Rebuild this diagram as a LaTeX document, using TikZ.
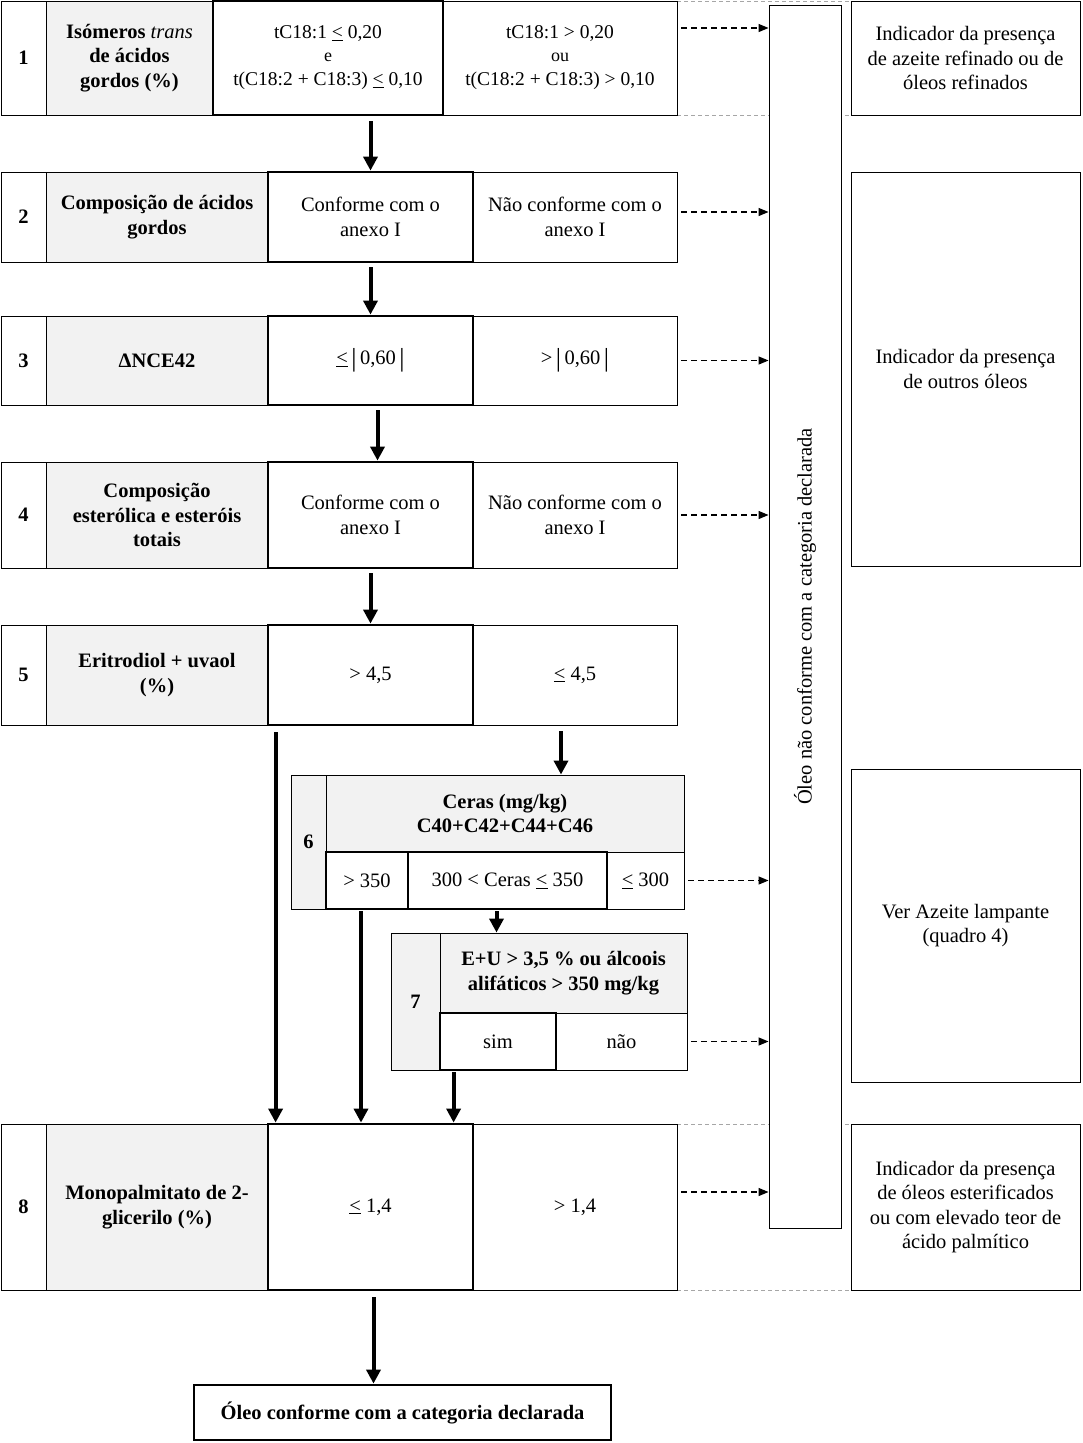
\documentclass[tikz,border=0pt]{standalone}
\usepackage{fontspec}
\setmainfont{Liberation Serif}
\usetikzlibrary{arrows.meta,calc}
\definecolor{lg}{HTML}{F2F2F2}
\newcommand\bx[7]{\node[#1, minimum width={(#5-#3)*1pt}, minimum height={(#6-#4)*1pt}] (#2) at ({(#3+#5)/2},{(#4+#6)/2}) {#7};}
\newcommand\tallbar{{\fontsize{26}{26}\selectfont\raisebox{-2pt}{|}}}
\newcommand\fs{\fontsize{20.5}{24.5}\selectfont}
\newcommand\fsa{\fontsize{19.5}{22}\selectfont}
\begin{document}
\begin{tikzpicture}[x=1pt,y=-1pt,
  cell/.style={draw, line width=0.9pt, align=center, inner sep=1pt, fill=white, font=\fs},
  lab/.style={cell, fill=lg, font=\bfseries\fs},
  num/.style={cell, font=\bfseries\fs},
  gnum/.style={num, fill=lg},
  thk/.style={cell, line width=2.8pt},
  arr/.style={line width=4pt, -{Triangle[length=14pt,width=14pt]}},
  darr/.style={line width=1.2pt, dash pattern=on 6pt off 4pt, -{Triangle[length=10pt,width=8pt]}},
  gdash/.style={draw=gray!70, line width=1pt, dash pattern=on 4pt off 3pt}]
\useasboundingbox (0,0) rectangle (1083,1443);
\fill[white] (0,0) rectangle (1083,1443);

% gray dashed guide lines
\coordinate (g1a) at (677,1); \coordinate (g1b) at (851,1);
\coordinate (g2a) at (677,115); \coordinate (g2b) at (851,115);
\coordinate (g3a) at (677,1124); \coordinate (g3b) at (851,1124);
\coordinate (g4a) at (677,1290); \coordinate (g4b) at (851,1290);
\draw[gdash] (g1a) -- (g1b); \draw[gdash] (g2a) -- (g2b);
\draw[gdash] (g3a) -- (g3b); \draw[gdash] (g4a) -- (g4b);

% row 1
\bx{num}{n1}{1}{1}{46}{115}{1}
\bx{lab}{l1}{46}{1}{213}{115}{Isómeros \textit{\mdseries trans}\\de ácidos\\gordos (\%)}
\bx{cell}{r1}{443}{1}{677}{115}{\fsa tC18:1 > 0,20\\[-2pt]{\fontsize{18}{18}\selectfont ou}\\\fsa t(C18:2 + C18:3) > 0,10}
\bx{thk}{m1}{213}{1}{443}{115}{\fsa tC18:1 \underline{<} 0,20\\[-2pt]{\fontsize{18}{18}\selectfont e}\\\fsa t(C18:2 + C18:3) \underline{<} 0,10}

% row 2
\bx{num}{n2}{1}{172}{46}{262}{2}
\bx{lab}{l2}{46}{172}{268}{262}{Composição de ácidos\\gordos}
\bx{cell}{r2}{473}{172}{677}{262}{Não conforme com o\\anexo I}
\bx{thk}{m2}{268}{172}{473}{262}{Conforme com o\\anexo I}

% row 3
\bx{num}{n3}{1}{316}{46}{405}{3}
\bx{lab}{l3}{46}{316}{268}{405}{ΔNCE42}
\bx{cell}{r3}{473}{316}{677}{405}{>\,\tallbar\,0,60\,\tallbar}
\bx{thk}{m3}{268}{316}{473}{405}{\underline{<}\,\tallbar\,0,60\,\tallbar}

% row 4
\bx{num}{n4}{1}{462}{46}{568}{4}
\bx{lab}{l4}{46}{462}{268}{568}{Composição\\esterólica e esteróis\\totais}
\bx{cell}{r4}{473}{462}{677}{568}{Não conforme com o\\anexo I}
\bx{thk}{m4}{268}{462}{473}{568}{Conforme com o\\anexo I}

% row 5
\bx{num}{n5}{1}{625}{46}{725}{5}
\bx{lab}{l5}{46}{625}{268}{725}{Eritrodiol + uvaol\\(\%)}
\bx{cell}{r5}{473}{625}{677}{725}{\underline{<} 4,5}
\bx{thk}{m5}{268}{625}{473}{725}{> 4,5}

% row 6
\bx{gnum}{n6}{291}{775}{326}{909}{6}
\bx{lab}{h6}{326}{775}{684}{852}{Ceras (mg/kg)\\C40+C42+C44+C46}
\bx{cell}{c6}{607}{852}{684}{909}{\underline{<} 300}
\bx{thk}{a6}{326}{852}{408}{909}{> 350}
\bx{thk}{b6}{408}{852}{607}{909}{300 < Ceras \underline{<} 350}

% row 7
\bx{gnum}{n7}{391}{933}{440}{1070}{7}
\bx{lab}{h7}{440}{933}{687}{1013}{E+U > 3,5 \% ou álcoois\\alifáticos > 350 mg/kg}
\bx{cell}{no7}{556}{1013}{687}{1070}{não}
\bx{thk}{s7}{440}{1013}{556}{1070}{sim}

% row 8
\bx{num}{n8}{1}{1124}{46}{1290}{8}
\bx{lab}{l8}{46}{1124}{268}{1290}{Monopalmitato de 2-\\glicerilo (\%)}
\bx{cell}{r8}{473}{1124}{677}{1290}{> 1,4}
\bx{thk}{m8}{268}{1124}{473}{1290}{\underline{<} 1,4}

% final
\bx{thk}{fin}{194}{1385}{611}{1440}{\bfseries Óleo conforme com a categoria declarada}

% right column
\bx{cell}{R1}{851}{1}{1080}{115}{Indicador da presença\\de azeite refinado ou de\\óleos refinados}
\bx{cell}{R2}{851}{172}{1080}{566}{Indicador da presença\\de outros óleos}
\bx{cell}{R3}{851}{769}{1080}{1082}{Ver Azeite lampante\\(quadro 4)}
\bx{cell}{R4}{851}{1124}{1080}{1290}{Indicador da presença\\de óleos esterificados\\ou com elevado teor de\\ácido palmítico}

% vertical box
\bx{cell}{V}{769}{5}{841}{1228}{}
\node[rotate=90, font=\fs] (vt) at (V.center) {Óleo não conforme com a categoria declarada};

% solid arrows
\draw[arr, shorten <=5pt] (m1.south -| m2.north) -- (m2.north);
\draw[arr, shorten <=4pt] (m2.south) -- (m3.north);
\draw[arr, shorten <=4pt] ([xshift=7pt]m3.south) -- ([xshift=7pt]m4.north);
\draw[arr, shorten <=4pt] (m4.south) -- (m5.north);
\draw[arr, shorten <=6pt] ([xshift=-14pt]r5.south) -- ([xshift=-14pt]r5.south |- h6.north);
\draw[arr, shorten <=6pt] ([xshift=9pt]m5.south west) -- ([xshift=9pt]m5.south west |- m8.north);
\draw[arr, shorten <=1pt] ([xshift=-6pt]a6.south) -- ([xshift=-6pt]a6.south |- m8.north);
\draw[arr, shorten <=1pt] ([xshift=-11pt]b6.south) -- ([xshift=-11pt]b6.south |- h7.north);
\draw[arr, shorten <=1pt] ([xshift=15pt]s7.south west) -- ([xshift=15pt]s7.south west |- m8.north);
\draw[arr, shorten <=6pt] ([xshift=3pt]m8.south) -- ([xshift=3pt]m8.south |- fin.north);

% dashed arrows
\draw[darr, shorten <=4pt] ([yshift=30pt]r1.east) -- ([yshift=30pt]r1.east -| V.west);
\draw[darr, shorten <=4pt] ([yshift=5pt]r2.east) -- ([yshift=5pt]r2.east -| V.west);
\draw[darr, shorten <=4pt] (r3.east) -- (r3.east -| V.west);
\draw[darr, shorten <=4pt] (r4.east) -- (r4.east -| V.west);
\draw[darr, shorten <=4pt] (c6.east) -- (c6.east -| V.west);
\draw[darr, shorten <=4pt] (no7.east) -- (no7.east -| V.west);
\draw[darr, shorten <=4pt] ([yshift=15pt]r8.east) -- ([yshift=15pt]r8.east -| V.west);
\end{tikzpicture}
\end{document}
